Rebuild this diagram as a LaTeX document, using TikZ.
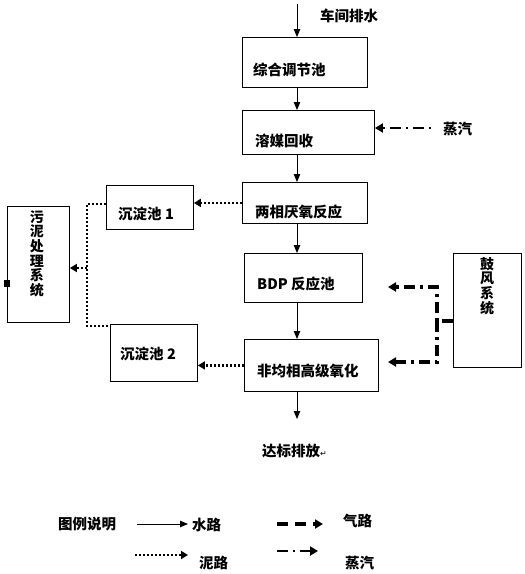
\documentclass[tikz,border=0pt]{standalone}
\usepackage{fontspec}
\setmainfont{Noto Sans CJK SC}
\newfontfamily\symf{DejaVu Sans}
\usetikzlibrary{arrows.meta}
\begin{document}
\begin{tikzpicture}[x=1pt,y=-1pt,
  box/.style={draw, line width=0.9pt, inner sep=0pt, anchor=north west},
  txt/.style={anchor=west, inner sep=0pt, font=\fontsize{14.5}{15}\selectfont\bfseries},
  vtxt/.style={anchor=north, align=center, inner sep=0pt, font=\fontsize{14}{14.7}\selectfont\bfseries},
  water/.style={line width=0.9pt, -{Triangle[length=8pt,width=6.5pt]}},
  sludge/.style={line width=2.8pt, dash pattern=on 2pt off 2pt, -{Triangle[length=7pt,width=8pt]}},
  sludgeline/.style={line width=2.8pt, dash pattern=on 2pt off 2pt},
  air/.style={line width=3.5pt, dash pattern=on 11pt off 5pt on 3pt off 5pt, -{Triangle[length=8pt,width=9pt]}},
  airleg/.style={line width=3.5pt, dash pattern=on 11pt off 7pt, -{Triangle[length=8pt,width=9pt]}},
  steam/.style={line width=2.5pt, dash pattern=on 2pt off 5pt on 11pt off 5pt, -{Triangle[length=8pt,width=9pt]}},
  steamleg/.style={line width=2.5pt, dash pattern=on 11pt off 5pt on 2pt off 5pt, -{Triangle[length=8pt,width=9pt]}}
]
\useasboundingbox (0,0) rectangle (525,574);

% process boxes
\node[box, minimum width=125pt, minimum height=50pt] (A) at (242,37) {};
\node[box, minimum width=132pt, minimum height=44pt] (B) at (242,110) {};
\node[box, minimum width=125pt, minimum height=41pt] (C) at (242,182) {};
\node[box, minimum width=118pt, minimum height=49pt] (D) at (244,253) {};
\node[box, minimum width=134pt, minimum height=52pt] (E) at (244,339) {};
\node[box, minimum width=68pt, minimum height=114pt] (F) at (453,253) {};
\node[box, minimum width=87pt, minimum height=44pt] (G) at (106,185) {};
\node[box, minimum width=87pt, minimum height=57pt] (H) at (110,324) {};
\node[box, minimum width=62pt, minimum height=116pt] (I) at (7,206) {};
\node[fill=black, inner sep=0pt, minimum width=6pt, minimum height=7pt] (sq) at (7,283) {};

% texts
\node[txt] (tA) at (253,70) {综合调节池};
\node[txt] (tB) at (255,141) {溶媒回收};
\node[txt] (tC) at (255,212) {两相厌氧反应};
\node[txt] (tD) at (257,284) {BDP 反应池};
\node[txt] (tE) at (257,371) {非均相高级氧化};
\node[txt] (tG) at (118,214) {沉淀池 1};
\node[txt] (tH) at (120,354) {沉淀池 2};
\node[vtxt] (tF) at (487,257) {鼓\\风\\系\\统};
\node[vtxt] (tI) at (37,210) {污\\泥\\处\\理\\系\\统};
\node[txt] (tin) at (320,16) {车间排水};
\node[txt] (tst) at (443,129) {蒸汽};
\node[txt] (tout) at (262,451) {达标排放{\symf\mdseries\fontsize{8}{8}\selectfont ↵}};

% water path
\coordinate (in) at (297,4);
\coordinate (out) at (297,419);
\draw[water] (in) -- (A.north -| in);
\draw[water] (A.south -| in) -- (B.north -| in);
\draw[water] (B.south -| in) -- (C.north -| in);
\draw[water] (C.south -| in) -- (D.north -| in);
\draw[water] (D.south -| in) -- (E.north -| in);
\draw[water] (E.south -| in) -- (out);

% steam
\coordinate (st) at (431,128);
\draw[steam] (st) -- (st -| B.east);

% sludge
\draw[sludge] (C.west) -- (C.west -| G.east);
\draw[sludge] (E.west) -- (E.west -| H.east);
\coordinate (d1) at (87,204);
\coordinate (d2) at (87,326);
\coordinate (d3) at (87,268);
\draw[sludgeline] (G.west |- d1) -- (d1) -- (d2) -- (d2 -| H.west);
\draw[sludge] (d3) -- (d3 -| I.east);

% air
\coordinate (a0) at (437,321);
\coordinate (a1) at (437,287);
\coordinate (a2) at (437,362);
\coordinate (e1) at (388,287);
\coordinate (e2) at (388,362);
\draw[air] (F.west |- a0) -- (a0) -- (a1) -- (e1);
\draw[air] (a0) -- (a2) -- (e2);

% legend
\node[txt] (lg) at (58,524) {图例说明};
\coordinate (l1a) at (137,524); \coordinate (l1b) at (188,524);
\draw[water] (l1a) -- (l1b);
\node[txt] (lw) at (192,525) {水路};
\coordinate (l2a) at (277,524); \coordinate (l2b) at (323,524);
\draw[airleg] (l2a) -- (l2b);
\node[txt] (la) at (343,521) {气路};
\coordinate (l3a) at (135,555); \coordinate (l3b) at (188,555);
\draw[sludge] (l3a) -- (l3b);
\node[txt] (ls) at (199,563) {泥路};
\coordinate (l4a) at (277,551); \coordinate (l4b) at (318,551);
\draw[steamleg] (l4a) -- (l4b);
\node[txt] (lst) at (345,563) {蒸汽};
\end{tikzpicture}
\end{document}
